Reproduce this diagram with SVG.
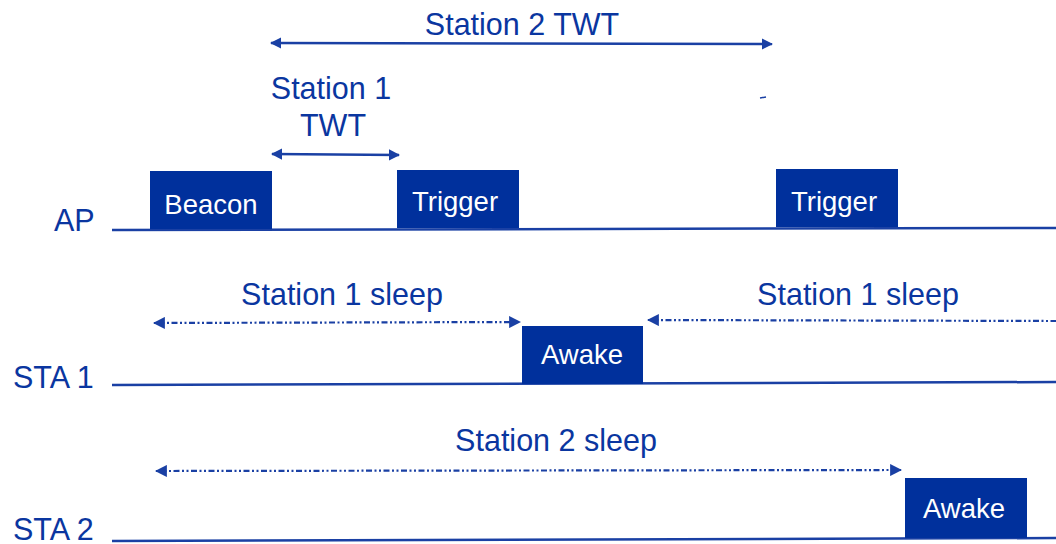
<svg xmlns="http://www.w3.org/2000/svg" width="1056" height="544" viewBox="0 0 1056 544">
<defs>
<style>
.lbl{font-family:"Liberation Sans",Arial,sans-serif;font-size:30.5px;fill:#0a36a0;}
.box{fill:#00309c;}
.bt{font-family:"Liberation Sans",Arial,sans-serif;font-size:27.5px;fill:#ffffff;text-anchor:middle;}
.axis{stroke:#1a40a4;stroke-width:2.5;fill:none;}
.solid{stroke:#1a40a4;stroke-width:2.5;fill:none;}
.dot{stroke:#1a40a4;stroke-width:2.2;fill:none;stroke-dasharray:6 2.5 2 2.5 2 2.5;}
</style>
<marker id="ah" viewBox="0 0 10 10" refX="9" refY="5" markerWidth="4.5" markerHeight="4.5" orient="auto-start-reverse" markerUnits="strokeWidth">
<path d="M0,0 L10,5 L0,10 z" fill="#1a40a4"/>
</marker>
<marker id="ahd" viewBox="0 0 10 10" refX="9" refY="5" markerWidth="5.5" markerHeight="5.5" orient="auto-start-reverse" markerUnits="strokeWidth">
<path d="M0,0 L10,5 L0,10 z" fill="#1a40a4"/>
</marker>
</defs>
<g id="axes">
<text class="lbl" x="54" y="231">AP</text>
<line class="axis" x1="112" y1="230" x2="1056" y2="228"/>
<text class="lbl" x="13" y="388">STA 1</text>
<line class="axis" x1="112" y1="385" x2="1056" y2="382"/>
<text class="lbl" x="13" y="540">STA 2</text>
<line class="axis" x1="112" y1="541" x2="1056" y2="538"/>
</g>
<g id="beacon"><rect class="box" x="150" y="171" width="122" height="58"/><text class="bt" x="211" y="214">Beacon</text></g>
<g id="trigger1"><rect class="box" x="397" y="170" width="122" height="58"/><text class="bt" x="455" y="211">Trigger</text></g>
<g id="trigger2"><rect class="box" x="776" y="169" width="122" height="58"/><text class="bt" x="834" y="211">Trigger</text></g>
<g id="awake1"><rect class="box" x="522" y="326" width="121" height="58"/><text class="bt" x="582" y="364">Awake</text></g>
<g id="awake2"><rect class="box" x="905" y="478" width="122" height="60"/><text class="bt" x="964" y="518">Awake</text></g>
<g id="labels">
<text class="lbl" x="522" y="35" text-anchor="middle">Station 2 TWT</text>
<text class="lbl" x="331" y="99" text-anchor="middle">Station 1</text>
<text class="lbl" x="333" y="136" text-anchor="middle">TWT</text>
<text class="lbl" x="342" y="305" text-anchor="middle">Station 1 sleep</text>
<text class="lbl" x="858" y="305" text-anchor="middle">Station 1 sleep</text>
<text class="lbl" x="556" y="451" text-anchor="middle">Station 2 sleep</text>
</g>
<g id="connectors">
<line class="solid" x1="271" y1="43" x2="772" y2="44" marker-start="url(#ah)" marker-end="url(#ah)"/>
<line class="solid" x1="272" y1="154" x2="399" y2="155" marker-start="url(#ah)" marker-end="url(#ah)"/>
<line class="dot" x1="154" y1="323" x2="520" y2="322" marker-start="url(#ahd)" marker-end="url(#ahd)"/>
<line class="dot" x1="648" y1="320" x2="1056" y2="321" marker-start="url(#ahd)"/>
<line class="dot" x1="156" y1="471" x2="901" y2="470" marker-start="url(#ahd)" marker-end="url(#ahd)"/>
<line x1="760" y1="98" x2="766" y2="97" stroke="#1a40a4" stroke-width="1.5"/>
</g>
</svg>
